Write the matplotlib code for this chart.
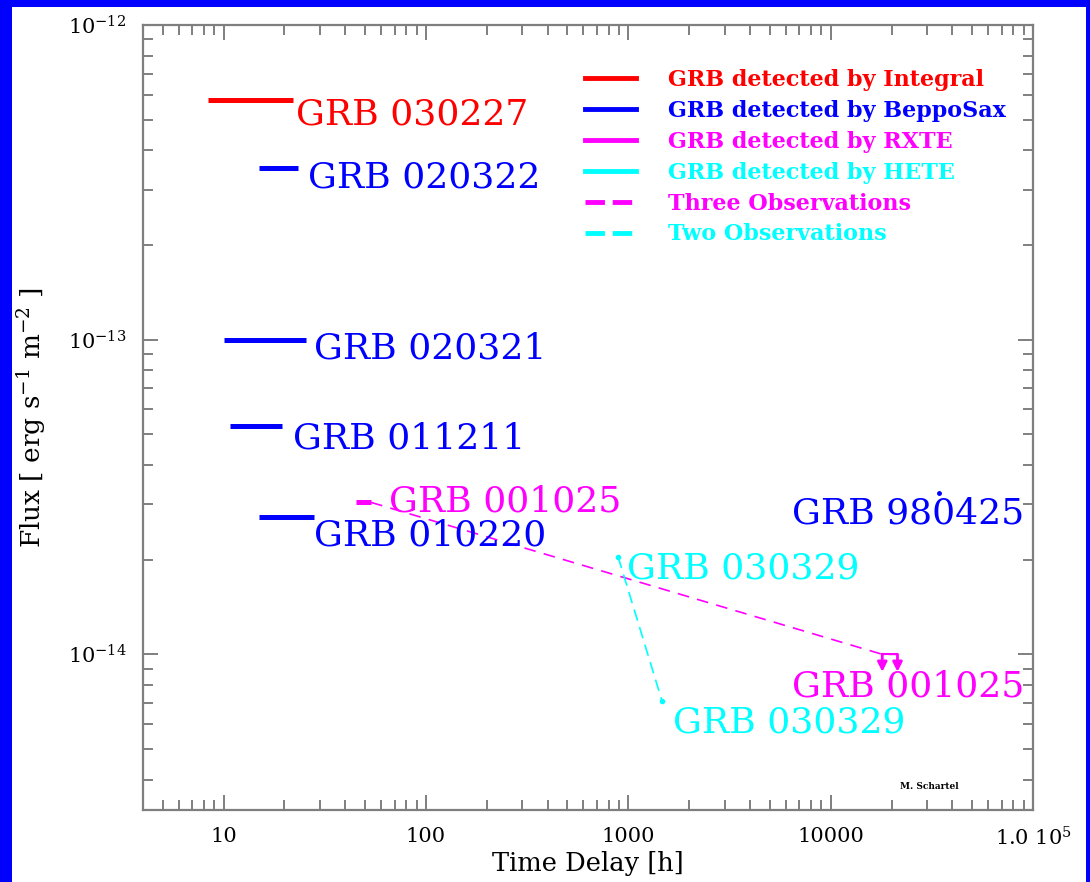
import matplotlib
matplotlib.use("Agg")
import matplotlib.pyplot as plt
from matplotlib.lines import Line2D
from matplotlib.patches import Rectangle
from matplotlib.ticker import FuncFormatter, LogFormatterSciNotation, NullFormatter

plt.rcParams["font.family"] = ["DejaVu Serif"]
plt.rcParams["mathtext.fontset"] = "dejavuserif"

RED = "#ff0000"
BLUE = "#0000ff"
MAGENTA = "#ff00ff"
CYAN = "#00ffff"
GRAY = "#7f7f7f"

# single bursts: time interval [h] and flux
burst_names = ["GRB 030227", "GRB 020322", "GRB 020321", "GRB 011211", "GRB 010220", "GRB 001025"]
burst_colors = [RED, BLUE, BLUE, BLUE, BLUE, MAGENTA]
burst_t0 = [8.4, 14.9, 10.1, 10.8, 14.9, 45.2]
burst_t1 = [22.1, 23.4, 25.6, 19.5, 28.1, 53.6]
burst_flux = [5.78e-13, 3.52e-13, 1.0e-13, 5.3e-14, 2.73e-14, 3.04e-14]

# GRB 001025: three observations (last two upper limits)
grb001025_t = [53.6, 1.8e4, 2.14e4]
grb001025_f = [3.04e-14, 1.0e-14, 1.0e-14]
grb001025_ul_t = [1.8e4, 2.14e4]
grb001025_ul_f = [1.0e-14, 1.0e-14]

# GRB 030329: two observations
grb030329_t = [891, 1469]
grb030329_f = [2.04e-14, 7.1e-15]

# GRB 980425
grb980425_t = [3.44e4]
grb980425_f = [3.25e-14]

# labels
label_text = ["GRB 030227", "GRB 020322", "GRB 020321", "GRB 011211", "GRB 010220",
              "GRB 001025", "GRB 030329", "GRB 980425", "GRB 001025", "GRB 030329"]
label_x = [22.9, 26.2, 28.1, 22.1, 28.1, 65.8, 988, 6430, 6480, 1667]
label_y = [5.19e-13, 3.27e-13, 9.36e-14, 4.85e-14, 2.39e-14, 3.07e-14, 1.88e-14, 2.8e-14, 7.89e-15, 6.09e-15]
label_colors = [RED, BLUE, BLUE, BLUE, BLUE, MAGENTA, CYAN, BLUE, MAGENTA, CYAN]

legend_labels = ["GRB detected by Integral", "GRB detected by BeppoSax",
                 "GRB detected by RXTE", "GRB detected by HETE",
                 "Three Observations", "Two Observations"]
legend_colors = [RED, BLUE, MAGENTA, CYAN, MAGENTA, CYAN]
legend_dashed = [False, False, False, False, True, True]

fig = plt.figure(figsize=(10.9, 8.82), dpi=100, facecolor=BLUE)
fig.patches.append(Rectangle((12 / 1090, 0), 1074 / 1090, 875 / 882,
                             transform=fig.transFigure, facecolor="white",
                             edgecolor="none", zorder=-10))
ax = fig.add_axes([0.1312, 0.0816, 0.8165, 0.890])
ax.set_facecolor("white")
ax.set_xscale("log")
ax.set_yscale("log")
ax.set_xlim(4, 1.0001e5)
ax.set_ylim(3.2e-15, 1.0e-12)

for t0, t1, f, c in zip(burst_t0, burst_t1, burst_flux, burst_colors):
    ax.plot([t0, t1], [f, f], color=c, lw=3.6, solid_capstyle="butt")

ax.plot(grb001025_t, grb001025_f, color=MAGENTA, lw=1.2, dashes=(7, 5))
for t, f in zip(grb001025_ul_t, grb001025_ul_f):
    ax.annotate("", xy=(t, f * 0.88), xytext=(t, f),
                arrowprops=dict(arrowstyle="-|>", color=MAGENTA, lw=2,
                                mutation_scale=14, shrinkA=0, shrinkB=0))
ax.plot(grb001025_ul_t, grb001025_ul_f, color=MAGENTA, lw=1.5)

ax.plot(grb030329_t, grb030329_f, color=CYAN, lw=1.2, dashes=(7, 4),
        marker="o", markersize=3)
ax.plot(grb980425_t, grb980425_f, color=BLUE, marker="o", markersize=2.5, lw=0)

for txt, x, y, c in zip(label_text, label_x, label_y, label_colors):
    ax.text(x, y, txt, color=c, fontsize=26, ha="left", va="center")

handles = []
for c, d in zip(legend_colors, legend_dashed):
    if d:
        handles.append(Line2D([], [], color=c, lw=3.5, dashes=(4, 1.6)))
    else:
        handles.append(Line2D([], [], color=c, lw=3.5))
leg = ax.legend(handles, legend_labels, loc="upper left",
                bbox_to_anchor=(0.4966, 0.944), frameon=False,
                prop={"size": 16, "weight": "bold"},
                handlelength=2.3, handletextpad=1.45, labelspacing=0.4,
                borderpad=0, borderaxespad=0)
for txt, c in zip(leg.get_texts(), legend_colors):
    txt.set_color(c)

ax.text(0.8506, 0.0306, "M. Schartel", transform=ax.transAxes, fontsize=6.5,
        weight="bold", va="center")

ax.xaxis.set_major_formatter(FuncFormatter(
    lambda v, pos: r"1.0 $10^{5}$" if v >= 9e4 else f"{v:.0f}"))
ax.xaxis.set_minor_formatter(NullFormatter())
ax.yaxis.set_major_formatter(LogFormatterSciNotation())
ax.yaxis.set_minor_formatter(NullFormatter())

for s in ax.spines.values():
    s.set_color(GRAY)
    s.set_linewidth(1.6)
ax.tick_params(which="both", direction="in", top=True, right=True,
               color=GRAY, width=1.4, labelsize=15, pad=12)
ax.tick_params(which="major", length=11)
ax.tick_params(which="minor", length=7)

ax.set_xlabel("Time Delay [h]", fontsize=18.5, labelpad=1)
ax.set_ylabel(r"Flux [ erg s$^{-1}$ m$^{-2}$ ]", fontsize=19, labelpad=14)

fig.savefig("out.png", dpi=100, facecolor=BLUE)
